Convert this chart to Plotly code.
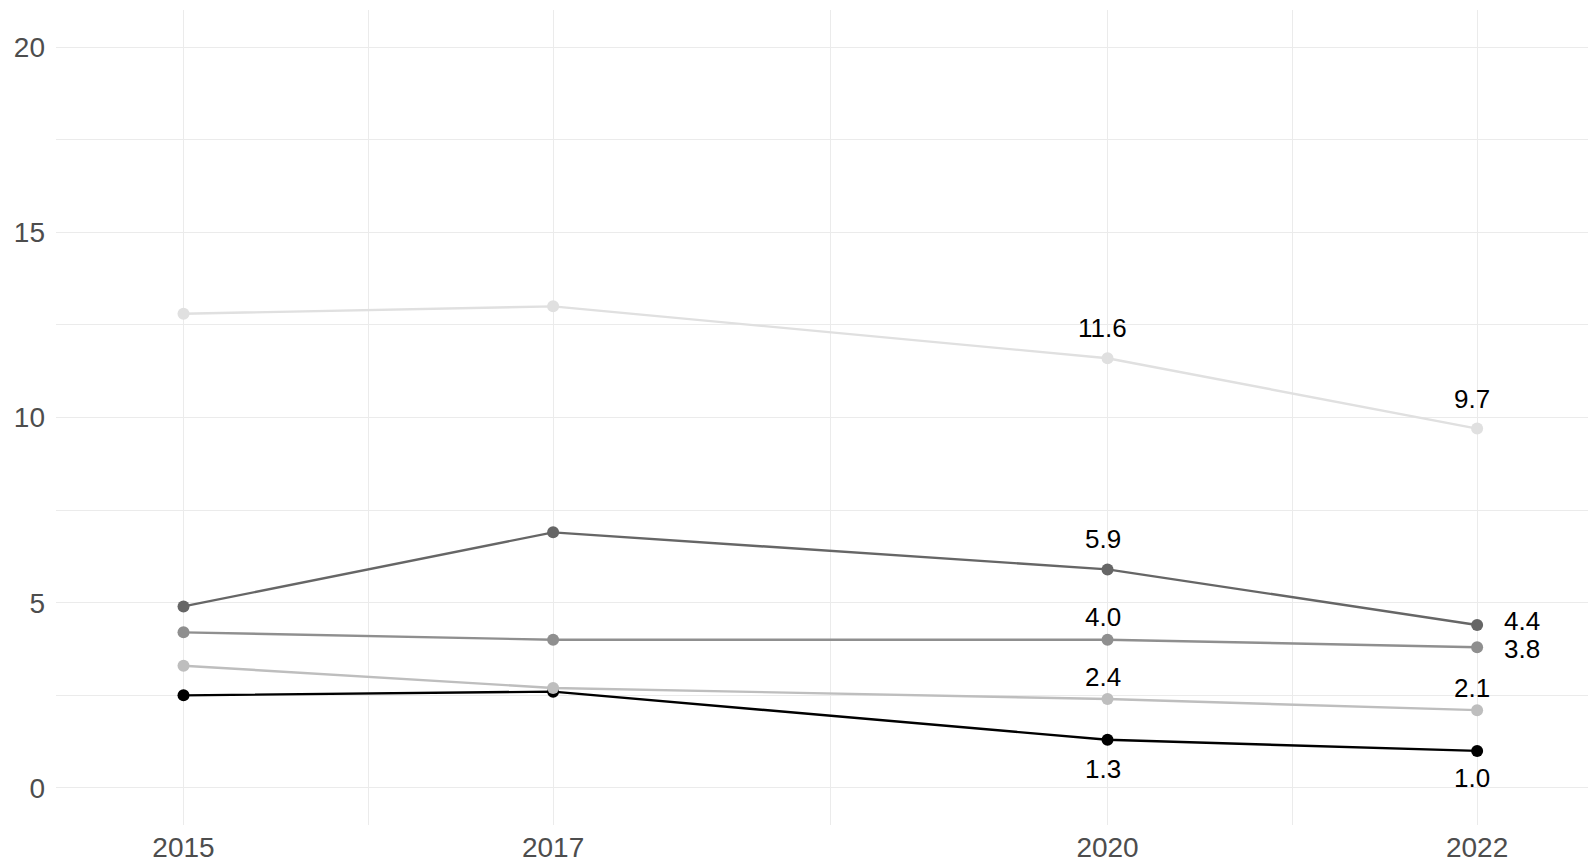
import plotly.graph_objects as go

# -----------------------------
# data
# -----------------------------

years = [2015, 2017, 2020, 2022]

serie_a = [12.8, 13.0, 11.6, 9.7]   # lightest
serie_b = [4.9, 6.9, 5.9, 4.4]      # dark grey
serie_c = [4.2, 4.0, 4.0, 3.8]      # mid grey
serie_d = [3.3, 2.7, 2.4, 2.1]      # light grey
serie_e = [2.5, 2.6, 1.3, 1.0]      # black

series = [
    ("Serie E", serie_e, "#000000"),
    ("Serie A", serie_a, "#E0E0E0"),
    ("Serie B", serie_b, "#666666"),
    ("Serie C", serie_c, "#8F8F8F"),
    ("Serie D", serie_d, "#BEBEBE"),
]

# label offsets in pixels for the 2020 and 2022 points
label_shift = {
    "Serie A": [(-5, 30), (-5, 30)],
    "Serie B": [(-5, 30), (45, 4)],
    "Serie C": [(-5, 23), (45, -2)],
    "Serie D": [(-5, 22), (-5, 22)],
    "Serie E": [(-5, -29), (-5, -27)],
}

# -----------------------------
# figure
# -----------------------------

fig = go.Figure()

for name, vals, col in series:
    fig.add_trace(
        go.Scatter(
            x=years,
            y=vals,
            name=name,
            mode="lines+markers",
            line=dict(color=col, width=2.4),
            marker=dict(color=col, size=12),
            showlegend=False,
        )
    )

    for i, (dx, dy) in zip([2, 3], label_shift[name]):
        fig.add_annotation(
            x=years[i],
            y=vals[i],
            text=f"{vals[i]:.1f}",
            showarrow=False,
            xshift=dx,
            yshift=dy,
            font=dict(family="Liberation Sans, Arial", size=26, color="#000000"),
        )

grid = "#EBEBEB"

fig.update_xaxes(
    range=[2014.31, 2022.6],
    tickvals=years,
    ticktext=[str(y) for y in years],
    showgrid=True,
    gridcolor=grid,
    gridwidth=1.3,
    zeroline=False,
    showline=False,
    ticks="",
    ticklabelstandoff=3,
    automargin=False,
    tickfont=dict(family="Liberation Sans, Arial", size=28, color="#4D4D4D"),
    minor=dict(tickvals=[2016, 2018.5, 2021], showgrid=True, gridcolor=grid, gridwidth=1),
)

fig.update_yaxes(
    range=[-1, 21],
    tickvals=[0, 5, 10, 15, 20],
    showgrid=True,
    gridcolor=grid,
    gridwidth=1.3,
    zeroline=False,
    showline=False,
    ticks="",
    ticklabelstandoff=10,
    automargin=False,
    tickfont=dict(family="Liberation Sans, Arial", size=28, color="#4D4D4D"),
    minor=dict(tickvals=[2.5, 7.5, 12.5, 17.5], showgrid=True, gridcolor=grid, gridwidth=1),
)

fig.update_layout(
    width=1588,
    height=861,
    margin=dict(l=56, r=0, t=10, b=36),
    plot_bgcolor="white",
    paper_bgcolor="white",
)

fig.write_html(
    "out.html",
    config={"displayModeBar": False},
    post_script="document.body.style.margin='0';",
)
